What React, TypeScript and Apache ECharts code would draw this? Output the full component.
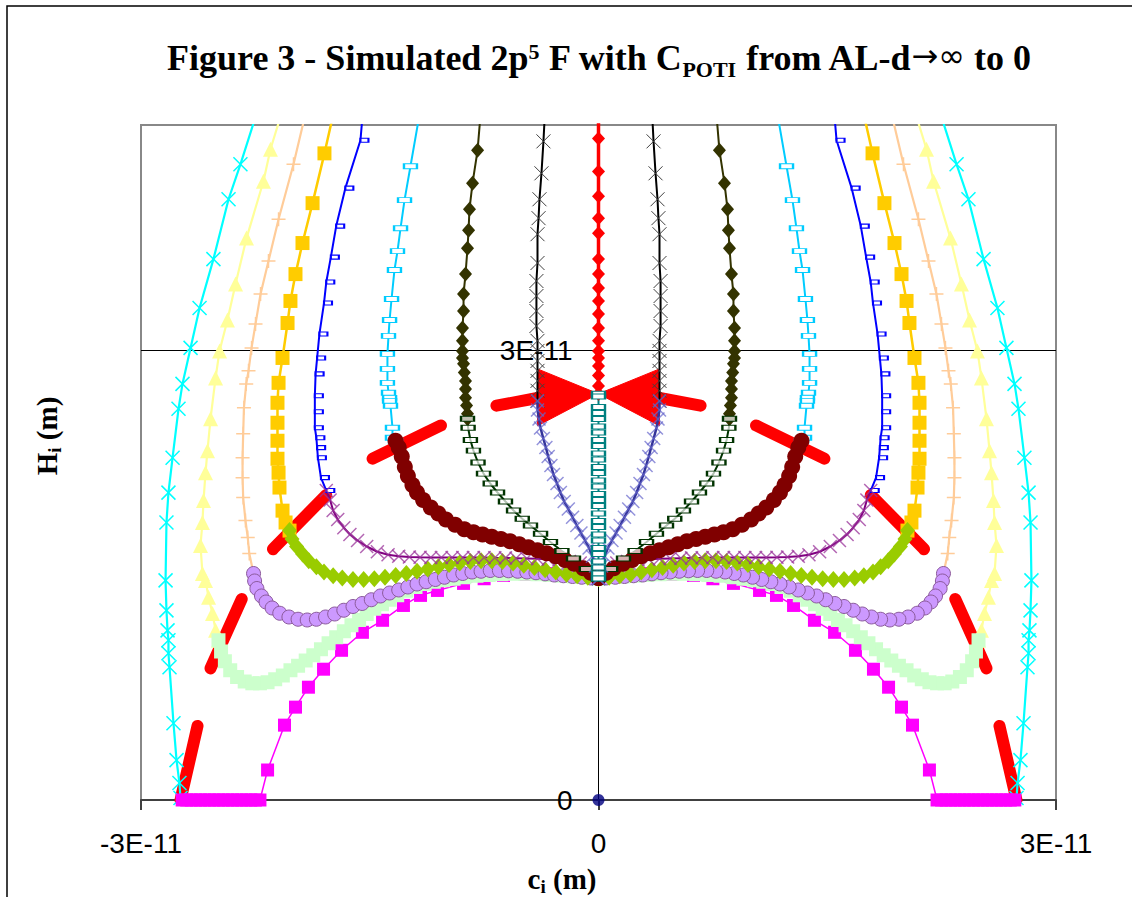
import React, { useEffect, useRef } from "react";
import * as echarts from "echarts";

// All values in picometres (1E-12 m), [c_i, H_i]; "_L" arrays are the left half,
// the right half of the figure is the mirror image (c_i -> -c_i).
const X_TICK_VALUES = [-30, 0, 30];
const X_TICK_LABELS = ["-3E-11", "0", "3E-11"];
const Y_TICK_VALUES = [0, 30];
const Y_TICK_LABELS = ["0", "3E-11"];

// red thick dashed arc (AL-d -> infinity to 0)
const RED_ARC_L = [[-27.41, 0], [-26.1, 5.79], [-25.44, 8.78], [-23.02, 14.24], [-21.31, 16.77], [-17.44, 20.76], [-14.82, 22.75], [-9.7, 25.28], [-6.75, 26.28], [-4.0, 26.8], [0, 27.08]];
// red wedges next to the centre: [x1,y1,x2,y2,x3,y3]
const RED_WEDGES = [[-4.0, 28.74, -4.0, 24.95, 0, 27.08], [4.0, 28.74, 4.0, 24.95, 0, 27.08]];

// upper curves (from top down to the arc)
const CYAN_L = [[-22.19, 46.5], [-23.48, 42.38], [-24.26, 40.05], [-25.25, 36.06], [-26.16, 32.8], [-26.75, 30.14], [-27.28, 27.74], [-27.54, 26.08], [-27.93, 22.82], [-28.2, 20.49], [-28.33, 18.5], [-28.39, 14.64], [-28.33, 12.64], [-28.26, 11.31], [-28.2, 10.65], [-28.2, 9.78], [-28.13, 8.85], [-27.87, 5.12], [-27.67, 2.66], [-27.48, 1.13], [-27.41, 0.13]];
const YELLOW_L = [[-20.57, 46.5], [-21.51, 43.38], [-21.97, 41.25], [-23.08, 37.46], [-23.8, 34.4], [-24.33, 32.0], [-24.85, 29.94], [-25.11, 28.14], [-25.44, 25.42], [-25.64, 23.29], [-25.77, 21.82], [-25.9, 19.96], [-25.97, 18.5], [-26.1, 16.97], [-25.97, 15.1], [-25.77, 14.64], [-25.57, 13.51], [-25.31, 12.44], [-25.11, 11.31], [-24.92, 10.65]];
const PEACH_L = [[-19.04, 46.5], [-20.0, 42.38], [-20.98, 38.72], [-21.64, 35.93], [-22.16, 33.73], [-22.49, 31.74], [-22.75, 30.14], [-22.95, 28.61], [-23.1, 27.74], [-23.25, 26.15], [-23.3, 24.42], [-23.34, 22.82], [-23.34, 21.49], [-23.3, 20.16], [-23.15, 18.63], [-23.0, 17.5], [-22.9, 16.43], [-22.62, 15.1]];
const GOLD_L = [[-17.22, 46.5], [-17.97, 43.11], [-18.75, 39.79], [-19.41, 37.13], [-19.87, 35.06], [-20.2, 33.27], [-20.39, 31.8], [-20.72, 29.47], [-20.98, 27.81], [-21.05, 26.48], [-21.05, 25.15], [-21.05, 23.95], [-21.05, 22.75], [-20.98, 21.82], [-20.92, 20.83], [-20.72, 19.29], [-20.52, 18.5], [-20.26, 17.96]];
const BLUE_L = [[-15.4, 46.5], [-15.61, 43.98], [-16.6, 40.79], [-17.2, 38.26], [-17.55, 36.19], [-17.85, 34.53], [-18.0, 33.13], [-18.3, 31.07], [-18.45, 29.47], [-18.55, 28.41], [-18.6, 26.95], [-18.6, 25.88], [-18.6, 24.82], [-18.5, 24.15], [-18.45, 23.49], [-18.4, 22.82], [-18.2, 21.49], [-17.85, 20.63]];
const SKY_L = [[-11.6, 46.5], [-12.33, 42.25], [-12.72, 39.99], [-12.98, 38.12], [-13.18, 36.59], [-13.38, 35.33], [-13.57, 33.4], [-13.7, 32.0], [-13.77, 30.94], [-13.84, 29.74], [-13.84, 28.74], [-13.84, 27.81], [-13.77, 27.15], [-13.7, 26.81], [-13.7, 26.61], [-13.64, 26.28], [-13.51, 24.82], [-13.51, 24.15], [-13.31, 23.95]];
const OLIVE_L = [[-7.67, 46.5], [-7.93, 43.31], [-8.26, 41.12], [-8.46, 39.39], [-8.52, 37.99], [-8.59, 36.79], [-8.72, 35.06], [-8.85, 33.73], [-8.85, 32.6], [-8.92, 31.47], [-8.92, 30.61], [-8.92, 29.94], [-8.92, 29.47], [-8.85, 29.08], [-8.8, 28.5], [-8.72, 27.94], [-8.72, 27.4], [-8.72, 26.81], [-8.65, 26.3], [-8.59, 25.75], [-8.59, 25.42]];
const BLACK_L = [[-3.48, 46.5], [-3.61, 43.91], [-3.74, 41.78], [-3.87, 40.05], [-3.93, 38.79], [-4.0, 37.72], [-4.0, 35.8], [-4.07, 34.6], [-4.07, 33.6], [-4.07, 32.6], [-4.07, 31.6], [-4.0, 30.61], [-4.0, 29.94], [-4.0, 29.27], [-4.0, 28.61], [-4.0, 27.94], [-4.0, 27.28], [-4.0, 26.61]];
const RED_C = [[0, 46.5], [0, 44.1], [0, 41.9], [0, 40.25], [0, 38.79], [0, 37.79], [0, 36.06], [0, 35.06], [0, 34.13], [0, 33.27], [0, 32.4], [0, 31.47], [0, 30.61], [0, 29.94], [0, 29.47], [0, 28.94], [0, 28.3], [0, 27.6], [0, 27.08]];

// lower curves (from the arc to the common point)
const MAGENTA_L = [[-27.3, 0], [-27.0, 0], [-26.7, 0], [-26.4, 0], [-26.1, 0], [-25.8, 0], [-25.5, 0], [-25.2, 0], [-24.9, 0], [-24.6, 0], [-24.3, 0], [-24.0, 0], [-23.7, 0], [-23.4, 0], [-23.1, 0], [-22.8, 0], [-22.5, 0], [-22.2, 0], [-21.7, 2.0], [-20.59, 4.99], [-19.87, 6.19], [-19.02, 7.52], [-18.03, 8.72], [-16.85, 9.98], [-15.48, 11.18], [-14.16, 11.98], [-12.79, 12.97], [-11.67, 13.64], [-10.56, 13.97], [-8.85, 14.44], [-7.5, 14.75], [-6.23, 14.97], [-4.8, 15.05], [-3.34, 15.1], [-1.7, 15.0], [0, 14.77]];
const PALE_L = [[-24.92, 10.65], [-24.75, 9.9], [-24.5, 9.25], [-24.15, 8.65], [-23.7, 8.2], [-23.2, 7.9], [-22.7, 7.78], [-22.2, 7.78], [-21.7, 7.85], [-21.2, 8.05], [-20.7, 8.3], [-20.2, 8.65], [-19.7, 8.95], [-19.2, 9.3], [-18.7, 9.65], [-18.2, 10.05], [-17.7, 10.45], [-17.2, 10.85], [-16.7, 11.25], [-16.2, 11.65], [-15.7, 12.0], [-15.2, 12.4], [-14.7, 12.75], [-14.2, 13.05], [-13.7, 13.35], [-13.2, 13.65], [-12.6, 13.95], [-12.0, 14.2], [-11.4, 14.4], [-10.8, 14.55], [-10.2, 14.65], [-9.5, 14.75], [-8.8, 14.85], [-8.0, 14.95], [-7.2, 15.0], [-6.4, 15.05], [-5.6, 15.08], [-4.8, 15.08], [-4.0, 15.05], [-3.2, 15.0], [-2.4, 14.95], [-1.6, 14.9], [-0.8, 14.85], [0, 14.77]];
const LAVENDER_L = [[-22.62, 15.1], [-22.55, 14.6], [-22.4, 14.1], [-22.1, 13.6], [-21.8, 13.2], [-21.4, 12.8], [-20.9, 12.45], [-20.3, 12.2], [-19.7, 12.05], [-19.1, 12.0], [-18.5, 12.05], [-17.9, 12.2], [-17.3, 12.4], [-16.7, 12.65], [-16.1, 12.9], [-15.5, 13.1], [-14.9, 13.35], [-14.3, 13.6], [-13.7, 13.8], [-13.1, 14.0], [-12.5, 14.2], [-11.9, 14.4], [-11.3, 14.55], [-10.7, 14.7], [-10.1, 14.85], [-9.5, 15.0], [-8.9, 15.1], [-8.3, 15.2], [-7.7, 15.25], [-7.1, 15.3], [-6.5, 15.3], [-5.9, 15.28], [-5.3, 15.25], [-4.7, 15.2], [-4.1, 15.15], [-3.5, 15.08], [-2.9, 15.0], [-2.3, 14.95], [-1.7, 14.9], [-1.1, 14.85], [-0.5, 14.8], [0, 14.77]];
const YGREEN_L = [[-20.26, 17.96], [-20.1, 17.4], [-19.8, 16.9], [-19.4, 16.4], [-19.0, 15.95], [-18.5, 15.55], [-18.0, 15.2], [-17.4, 14.95], [-16.8, 14.8], [-16.1, 14.7], [-15.4, 14.7], [-14.7, 14.75], [-14.0, 14.85], [-13.3, 14.97], [-12.6, 15.1], [-11.9, 15.25], [-11.2, 15.4], [-10.5, 15.55], [-9.8, 15.7], [-9.1, 15.8], [-8.4, 15.9], [-7.7, 15.95], [-7.0, 15.95], [-6.3, 15.9], [-5.6, 15.8], [-4.9, 15.65], [-4.2, 15.5], [-3.5, 15.35], [-2.8, 15.2], [-2.1, 15.05], [-1.4, 14.95], [-0.7, 14.85], [0, 14.77]];
const PURPLE_L = [[-17.85, 20.63], [-17.6, 20.0], [-17.4, 19.3], [-17.1, 18.7], [-16.7, 18.15], [-16.3, 17.7], [-15.8, 17.3], [-15.2, 16.9], [-14.5, 16.55], [-13.8, 16.35], [-13.1, 16.25], [-12.4, 16.2], [-11.7, 16.18], [-11.0, 16.17], [-10.3, 16.17], [-9.6, 16.17], [-8.9, 16.17], [-8.2, 16.17], [-7.5, 16.17], [-6.8, 16.15], [-6.1, 16.14], [-5.4, 16.12], [-4.7, 16.1], [-4.0, 16.08], [-3.3, 16.05], [-2.6, 16.0], [-1.9, 15.9], [-1.2, 15.8], [-0.5, 15.4], [0, 14.77]];
const MAROON_L = [[-13.31, 23.95], [-13.1, 23.5], [-12.9, 22.9], [-12.7, 22.2], [-12.5, 21.6], [-12.2, 21.0], [-11.9, 20.5], [-11.5, 20.0], [-11.0, 19.5], [-10.5, 19.1], [-10.0, 18.7], [-9.4, 18.35], [-8.8, 18.05], [-8.2, 17.85], [-7.6, 17.7], [-7.0, 17.55], [-6.4, 17.4], [-5.8, 17.25], [-5.2, 17.05], [-4.6, 16.85], [-4.0, 16.65], [-3.4, 16.45], [-2.8, 16.25], [-2.2, 16.0], [-1.6, 15.75], [-1.0, 15.45], [-0.5, 15.15], [0, 14.8]];
const DKGREEN_L = [[-8.59, 25.42], [-8.55, 24.82], [-8.4, 24.0], [-8.2, 23.29], [-7.9, 22.5], [-7.54, 21.76], [-7.1, 21.1], [-6.62, 20.5], [-6.1, 19.9], [-5.57, 19.3], [-5.0, 18.75], [-4.46, 18.3], [-3.8, 17.75], [-3.15, 17.2], [-2.4, 16.6], [-1.64, 16.1], [-0.8, 15.4], [0, 14.77]];
const SLATE_L = [[-4.0, 26.61], [-4.0, 26.0], [-3.9, 25.4], [-3.8, 24.8], [-3.62, 24.1], [-3.45, 23.5], [-3.3, 22.9], [-3.12, 22.3], [-2.95, 21.7], [-2.72, 21.1], [-2.5, 20.5], [-2.25, 19.9], [-1.98, 19.4], [-1.7, 18.85], [-1.42, 18.3], [-1.15, 17.8], [-0.88, 17.3], [-0.62, 16.8], [-0.4, 16.25], [-0.2, 15.6], [0, 14.77]];
const TEAL_C = [[0, 27.08], [0, 26.9], [0, 26.2], [0, 25.8], [0, 25.4], [0, 24.9], [0, 24.5], [0, 24.0], [0, 23.6], [0, 23.1], [0, 22.7], [0, 22.2], [0, 21.8], [0, 21.3], [0, 20.9], [0, 20.4], [0, 20.0], [0, 19.6], [0, 19.1], [0, 18.6], [0, 18.2], [0, 17.7], [0, 17.3], [0, 16.8], [0, 16.4], [0, 15.9], [0, 15.5], [0, 15.1], [0, 14.77]];

const ENDS = [[-27.35, 0], [27.35, 0]];
const ORIGIN = [[0, 0]];

const mirror = (pts: number[][]) => pts.map(([x, y]) => [-x, y]);

const X_MARK = "path://M0,0L10,10M10,0L0,10";
const PLUS_MARK = "path://M5,0L5,10M0,5L10,5";
const SERIF = '"Liberation Serif", "Times New Roman", serif';
const SANS = '"Liberation Sans", Arial, sans-serif';

type Sty = { line: any; symbol?: string; size?: any; item?: any; offset?: number[] };

function lineSeries(name: string, data: number[][], s: Sty) {
  return {
    type: "line",
    name,
    data,
    clip: true,
    silent: true,
    smooth: false,
    lineStyle: s.line,
    symbol: s.symbol || "none",
    showSymbol: !!s.symbol,
    symbolSize: s.size,
    symbolOffset: s.offset,
    itemStyle: s.item,
    emphasis: { disabled: true },
  };
}

function both(name: string, data: number[][], s: Sty) {
  return [lineSeries(name + " L", data, s), lineSeries(name + " R", mirror(data), s)];
}

const ST: Record<string, Sty> = {
  redArc: { line: { color: "#FF0000", width: 12, type: [76, 59], cap: "round", join: "round" } },
  cyan: { line: { color: "#00FFFF", width: 2.2 }, symbol: X_MARK, size: 14, item: { color: "#00FFFF", borderColor: "#00FFFF", borderWidth: 1.5 } },
  yellow: { line: { color: "#FFFF99", width: 2.2 }, symbol: "triangle", size: 15, item: { color: "#FFFF99" } },
  peach: { line: { color: "#FFCC99", width: 2.2 }, symbol: PLUS_MARK, size: 14, item: { color: "#FFCC99", borderColor: "#FFCC99", borderWidth: 1.5 } },
  gold: { line: { color: "#FFCC00", width: 2.5 }, symbol: "rect", size: 14, item: { color: "#FFCC00" } },
  blue: { line: { color: "#0000FF", width: 2 }, symbol: "rect", size: [8, 4], offset: [4, 0], item: { color: "#FFFFFF", borderColor: "#0000FF", borderWidth: 1.5 } },
  sky: { line: { color: "#00CCFF", width: 2 }, symbol: "rect", size: [13, 5], item: { color: "#FFFFFF", borderColor: "#00CCFF", borderWidth: 1.5 } },
  olive: { line: { color: "#333300", width: 2 }, symbol: "diamond", size: [13, 15], item: { color: "#333300" } },
  black: { line: { color: "#000000", width: 2 }, symbol: X_MARK, size: 14, item: { color: "#404040", borderColor: "#404040", borderWidth: 1 } },
  red: { line: { color: "#FF0000", width: 3.5 }, symbol: "diamond", size: [13, 14], item: { color: "#FF0000" } },
  magenta: { line: { color: "#FF00FF", width: 1.5 }, symbol: "rect", size: 13, item: { color: "#FF00FF" } },
  pale: { line: { color: "#CCFFCC", width: 2 }, symbol: "rect", size: 14, item: { color: "#CCFFCC" } },
  lavender: { line: { color: "#9966AA", width: 1.5 }, symbol: "circle", size: 14, item: { color: "#CC99FF", borderColor: "#8B5A9B", borderWidth: 1 } },
  ygreen: { line: { color: "#99CC00", width: 2 }, symbol: "diamond", size: [15, 17], item: { color: "#99CC00" } },
  purple: { line: { color: "#800080", width: 2 }, symbol: X_MARK, size: 13, item: { color: "rgba(153,51,153,0.75)", borderColor: "rgba(153,51,153,0.75)", borderWidth: 1.5 } },
  maroon: { line: { color: "#800000", width: 2 }, symbol: "circle", size: 16, item: { color: "#800000" } },
  dkgreen: { line: { color: "#003300", width: 2 }, symbol: "rect", size: [13, 5], item: { color: "rgba(255,255,255,0.7)", borderColor: "#003300", borderWidth: 1.5 } },
  slate: { line: { color: "#333399", width: 2.5 }, symbol: X_MARK, size: 13, item: { color: "rgba(102,102,204,0.7)", borderColor: "rgba(102,102,204,0.7)", borderWidth: 1.5 } },
  teal: { line: { color: "#008080", width: 2 }, symbol: "rect", size: [13, 5], item: { color: "#FFFFFF", borderColor: "#008080", borderWidth: 1.5 } },
};

const labelFrom = (vals: number[], labels: string[]) => (v: number) => {
  const i = vals.findIndex((t) => Math.abs(t - v) < 1e-9);
  return i >= 0 ? labels[i] : "";
};

const GRID_LEFT = 141;
const GRID_RIGHT = 76;
const PLOT_W = 1132 - GRID_LEFT - GRID_RIGHT;

function buildOption() {
  const series: any[] = [
    ...both("arc", RED_ARC_L, ST.redArc),
    {
      type: "custom",
      name: "wedges",
      silent: true,
      data: RED_WEDGES,
      encode: { x: [0, 2, 4], y: [1, 3, 5] },
      renderItem: (_p: any, api: any) => {
        const pts = [0, 2, 4].map((k) => api.coord([api.value(k), api.value(k + 1)]));
        return { type: "polygon", shape: { points: pts }, style: { fill: "#FF0000", stroke: "#FF0000", lineWidth: 1 } };
      },
    },
    ...both("cyan", CYAN_L, ST.cyan),
    ...both("yellow", YELLOW_L, ST.yellow),
    ...both("peach", PEACH_L, ST.peach),
    ...both("gold", GOLD_L, ST.gold),
    ...both("blue", BLUE_L, ST.blue),
    ...both("sky", SKY_L, ST.sky),
    ...both("olive", OLIVE_L, ST.olive),
    ...both("black", BLACK_L, ST.black),
    lineSeries("red", RED_C, ST.red),
    ...both("magenta", MAGENTA_L, ST.magenta),
    ...both("pale", PALE_L, ST.pale),
    ...both("lavender", LAVENDER_L, ST.lavender),
    ...both("ygreen", YGREEN_L, ST.ygreen),
    ...both("purple", PURPLE_L, ST.purple),
    ...both("maroon", MAROON_L, ST.maroon),
    ...both("dkgreen", DKGREEN_L, ST.dkgreen),
    ...both("slate", SLATE_L, ST.slate),
    lineSeries("teal", TEAL_C, ST.teal),
    {
      type: "scatter",
      name: "ends",
      silent: true,
      data: ENDS,
      symbol: "triangle",
      symbolSize: 11,
      itemStyle: { color: "#FFFF00" },
    },
    {
      type: "scatter",
      name: "origin",
      silent: true,
      data: ORIGIN,
      symbol: "circle",
      symbolSize: 12,
      itemStyle: { color: "#000080" },
    },
  ];

  const titleFont = { fontWeight: "bold", fontFamily: SERIF, fill: "#000" };
  return {
    animation: false,
    backgroundColor: "#FFFFFF",
    grid: {
      left: GRID_LEFT,
      right: GRID_RIGHT,
      top: 125,
      bottom: 97,
      show: true,
      borderColor: "#888888",
      borderWidth: 2,
      backgroundColor: "#FFFFFF",
    },
    xAxis: {
      type: "value",
      min: -30,
      max: 30,
      interval: 30,
      axisLine: { onZero: true, lineStyle: { color: "#404040", width: 2 } },
      axisTick: { show: true, inside: false, length: 10, lineStyle: { color: "#404040", width: 2 } },
      axisLabel: { fontSize: 28, fontFamily: SANS, color: "#000", margin: 29, formatter: labelFrom(X_TICK_VALUES, X_TICK_LABELS) },
      splitLine: { show: false },
    },
    yAxis: {
      type: "value",
      min: 0,
      max: 45,
      interval: 30,
      position: "left",
      offset: -PLOT_W / 2,
      axisLine: { onZero: false, lineStyle: { color: "#000", width: 1 } },
      axisTick: { show: false },
      axisLabel: { fontSize: 28, fontFamily: SANS, color: "#000", margin: 26, showMaxLabel: false, formatter: labelFrom(Y_TICK_VALUES, Y_TICK_LABELS) },
      splitLine: { show: true, showMinLine: false, showMaxLine: false, lineStyle: { color: "#000", width: 1 } },
    },
    graphic: [
      {
        type: "rect",
        silent: true,
        z: -10,
        shape: { x: 7, y: 6, width: 1300, height: 1100 },
        style: { fill: "none", stroke: "#000", lineWidth: 1.5 },
      },
      {
        type: "text",
        x: 599,
        y: 60,
        silent: true,
        style: {
          text: "{t|Figure 3 - Simulated 2p}{sup|5}{t| F with C}{sub|POTI}{t| from AL-d}{sym|\u2192\u221E}{t| to 0}",
          align: "center",
          verticalAlign: "middle",
          rich: {
            t: { ...titleFont, fontSize: 36, lineHeight: 40, verticalAlign: "top" },
            sym: { fontFamily: '"DejaVu Sans", sans-serif', fontSize: 32, fill: "#000", lineHeight: 40, verticalAlign: "top" },
            sup: { ...titleFont, fontSize: 22, lineHeight: 20, verticalAlign: "top" },
            sub: { ...titleFont, fontSize: 22, lineHeight: 20, padding: [24, 0, 0, 0], verticalAlign: "bottom" },
          },
        },
      },
      {
        type: "text",
        x: 562,
        y: 880,
        silent: true,
        style: {
          text: "{t|c}{s|i}{t| (m)}",
          align: "center",
          verticalAlign: "middle",
          rich: {
            t: { ...titleFont, fontSize: 29, lineHeight: 32, verticalAlign: "top" },
            s: { ...titleFont, fontSize: 19, lineHeight: 18, padding: [18, 0, 0, 0], verticalAlign: "bottom" },
          },
        },
      },
      {
        type: "text",
        x: 48,
        y: 436,
        rotation: Math.PI / 2,
        silent: true,
        style: {
          text: "{t|H}{s|i}{t| (m)}",
          align: "center",
          verticalAlign: "middle",
          rich: {
            t: { ...titleFont, fontSize: 29, lineHeight: 32, verticalAlign: "top" },
            s: { ...titleFont, fontSize: 19, lineHeight: 18, padding: [18, 0, 0, 0], verticalAlign: "bottom" },
          },
        },
      },
    ],
    series,
  };
}

export default function App() {
  const ref = useRef<HTMLDivElement>(null);
  useEffect(() => {
    if (!ref.current) return;
    const chart = echarts.init(ref.current, null, { renderer: "svg" });
    chart.setOption(buildOption() as any);
    return () => chart.dispose();
  }, []);
  return (
    <div
      ref={ref}
      style={{ position: "absolute", left: 0, top: 0, width: 1132, height: 897, background: "#fff" }}
    />
  );
}
